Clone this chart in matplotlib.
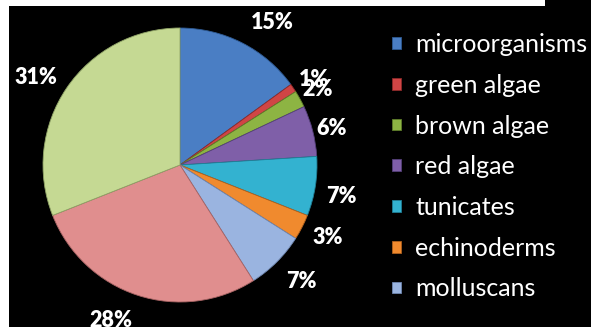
import matplotlib
matplotlib.use("Agg")
import matplotlib.pyplot as plt
import numpy as np
from matplotlib.patches import Rectangle

categories = ["microorganisms", "green algae", "brown algae", "red algae",
              "tunicates", "echinoderms", "molluscans", "other 1", "other 2"]
values = [15, 1, 2, 6, 7, 3, 7, 28, 31]
legend_count = 7
colors = ["#4A7EC4", "#D04545", "#8DB443", "#7F5FA8", "#33B2D0",
          "#F08A2E", "#9AB4E0", "#E08E8E", "#C5D993"]
edge_colors = ["#2E5A93", "#8E2A2A", "#5E7D2A", "#55407A", "#1F7F96",
               "#B0601C", "#6E86B0", "#A86464", "#8FA366"]
# label placement style: radial distance and angular shift (deg) per label
label_dist = [1.24, 1.16, 1.15, 1.14, 1.20, 1.20, 1.23, 1.24, 1.23]
label_shift = [-5.8, -1.6, 0.0, -0.7, -2.0, 1.0, 1.3, -5.9, 2.8]

W, H = 591, 327
fig = plt.figure(figsize=(W / 100, H / 100), dpi=100)
fig.patch.set_facecolor("white")
fig.add_artist(Rectangle((9 / W, 0), 1 - 9 / W, 1, transform=fig.transFigure,
                         facecolor="black", edgecolor="none", zorder=-10))
fig.add_artist(Rectangle((0, 1 - 6 / H), 545 / W, 6 / H, transform=fig.transFigure,
                         facecolor="white", edgecolor="none", zorder=-9))

ax = fig.add_axes([0, 0, 1, 1])
cx, cy, r = 180, 165, 137
wedges, texts, autotexts = ax.pie(
    values, colors=colors, startangle=90, counterclock=False,
    autopct="%1.0f%%", pctdistance=1.2,
    wedgeprops=dict(linewidth=0.6),
    textprops=dict(color="white", fontsize=15.5, fontweight="heavy", family="Lato"),
)
for w, ec, t, d, s in zip(wedges, edge_colors, autotexts, label_dist, label_shift):
    w.set_edgecolor(ec)
    ang = np.deg2rad((w.theta1 + w.theta2) / 2 + s)
    t.set_position((d * np.cos(ang), d * np.sin(ang)))
ax.set_xlim(-cx / r, (W - cx) / r)
ax.set_ylim(-(H - cy) / r, cy / r)
ax.set_aspect("auto")
ax.set_axis_off()

fig.legend(wedges[:legend_count], categories[:legend_count],
           loc="upper left", bbox_to_anchor=(392 / W, 1 - 33 / H),
           frameon=False, labelcolor="white",
           prop=dict(family="Lato", size=18),
           handlelength=0.35, handleheight=0.35, handletextpad=0.58,
           labelspacing=0.71, borderaxespad=0, borderpad=0)

fig.savefig("out.png", dpi=100, facecolor=fig.get_facecolor())
